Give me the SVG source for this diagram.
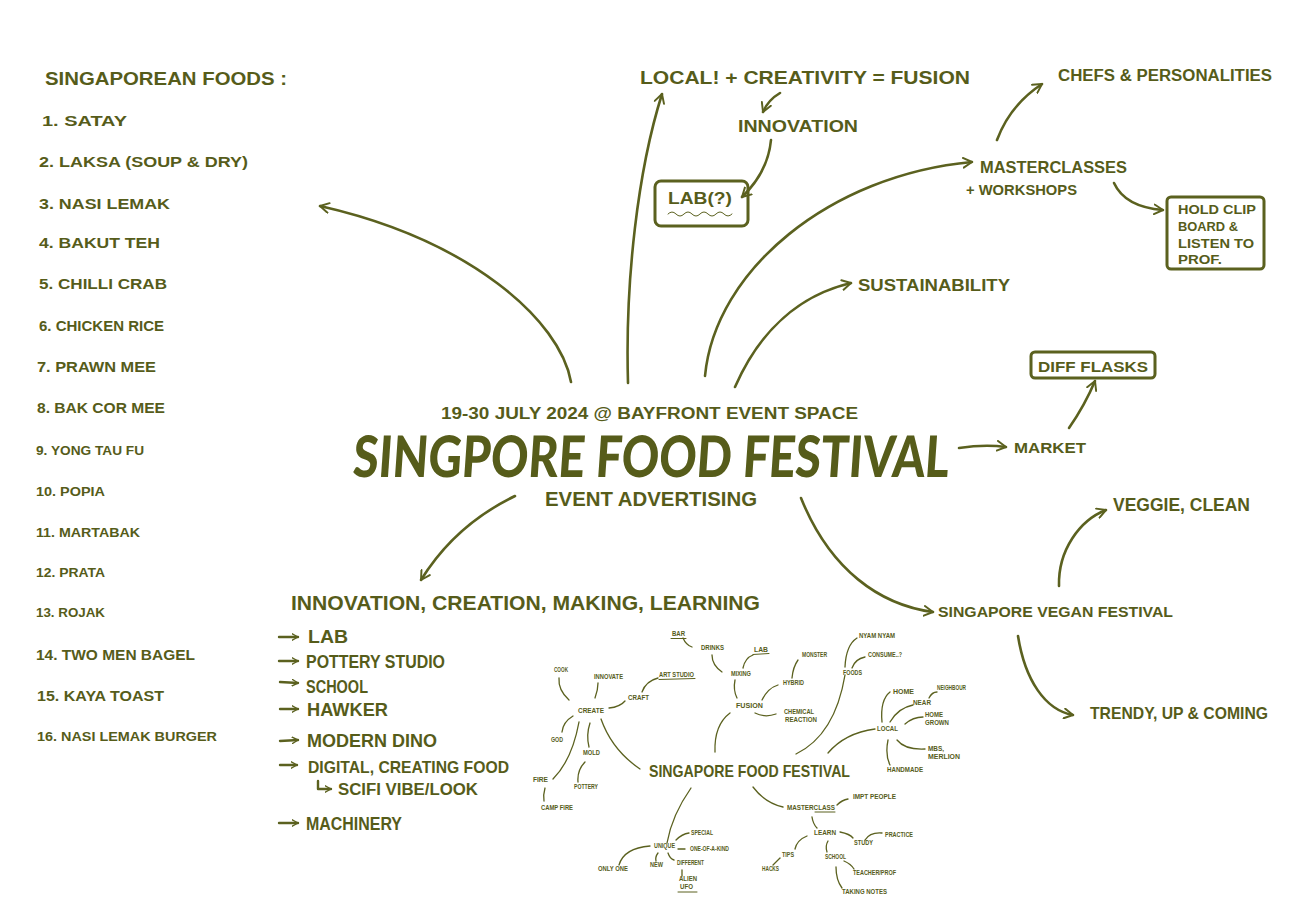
<svg xmlns="http://www.w3.org/2000/svg" width="1303" height="910" viewBox="0 0 1303 910">
<defs>
<style>
.t{font-family:"Liberation Sans",Arial,sans-serif;font-weight:bold;fill:#565c1a}
.title{font-family:Lato,"Liberation Sans",Arial,sans-serif;font-weight:900;fill:#565c1a}
.s{font-family:"Liberation Sans",Arial,sans-serif;font-weight:bold;fill:#565c1a;font-size:6.5px}
.c{fill:none;stroke:#5b611f;stroke-width:2.6;stroke-linecap:round;stroke-linejoin:round}
.b{fill:none;stroke:#5b611f;stroke-width:2.4;stroke-linecap:round;stroke-linejoin:round}
.m{fill:none;stroke:#5b611f;stroke-width:1.3;stroke-linecap:round}
.u{fill:none;stroke:#5b611f;stroke-width:1;stroke-linecap:round}
.box{fill:none;stroke:#5b611f;stroke-width:3;stroke-linejoin:round}
</style>
<marker id="ah" viewBox="0 0 12 12" refX="10" refY="6" markerWidth="4.5" markerHeight="4.5" orient="auto" markerUnits="strokeWidth">
<path d="M1,1 L10,6 L1,11" fill="none" stroke="#5b611f" stroke-width="2" stroke-linecap="round" stroke-linejoin="round"/>
</marker>
<marker id="bh" viewBox="0 0 12 12" refX="10" refY="6" markerWidth="3.2" markerHeight="3.2" orient="auto" markerUnits="strokeWidth">
<path d="M1,1 L10,6 L1,11" fill="none" stroke="#5b611f" stroke-width="2.2" stroke-linecap="round" stroke-linejoin="round"/>
</marker>
</defs>
<rect width="1303" height="910" fill="#ffffff"/>

<g id="connectors">
<path class="c" d="M571,382 C560,320 470,240 320,206" marker-end="url(#ah)"/>
<path class="c" d="M515,496 Q455,525 421,580" marker-end="url(#ah)"/>
<path class="c" d="M628,383 C625,280 638,170 662,94" marker-end="url(#ah)"/>
<path class="c" d="M705,376 C715,270 830,175 972,162" marker-end="url(#ah)"/>
<path class="c" d="M735,387 C760,330 800,295 851,283" marker-end="url(#ah)"/>
<path class="c" d="M780,93 Q768,100 763,112" marker-end="url(#ah)"/>
<path class="c" d="M771,140 Q768,172 742,197" marker-end="url(#ah)"/>
<path class="c" d="M997,140 Q1010,105 1042,84" marker-end="url(#ah)"/>
<path class="c" d="M1114,183 Q1125,207 1163,210" marker-end="url(#ah)"/>
<path class="c" d="M1069,428 Q1085,405 1095,381" marker-end="url(#ah)"/>
<path class="c" d="M959,448 Q985,444 1006,447" marker-end="url(#ah)"/>
<path class="c" d="M801,498 C830,570 880,605 933,612" marker-end="url(#ah)"/>
<path class="c" d="M1059,586 C1058,550 1080,520 1106,510" marker-end="url(#ah)"/>
<path class="c" d="M1018,636 C1025,680 1045,710 1073,715" marker-end="url(#ah)"/>
<!-- small mind map lines -->
<path class="m" d="M640,769 Q612,750 601,719"/>
<path class="m" d="M569,700 Q558,690 559,678"/>
<path class="m" d="M595,698 Q598,690 598,683"/>
<path class="m" d="M609,708 Q620,707 625,701"/>
<path class="m" d="M642,692 Q646,681 658,678"/>
<path class="m" d="M573,716 Q563,722 562,732"/>
<path class="m" d="M590,723 Q586,735 589,747"/>
<path class="m" d="M579,722 Q572,760 553,779"/>
<path class="m" d="M585,762 Q577,770 578,782"/>
<path class="m" d="M545,788 Q543,795 544,801"/>
<path class="m" d="M715,752 Q714,725 730,713"/>
<path class="m" d="M737,698 Q733,690 735,680"/>
<path class="m" d="M743,668 Q745,658 753,655"/>
<path class="m" d="M722,672 Q712,665 712,655"/>
<path class="m" d="M683,638 Q686,645 692,647"/>
<path class="m" d="M762,700 Q768,688 778,685"/>
<path class="m" d="M792,678 Q793,667 798,660"/>
<path class="m" d="M755,713 Q765,718 776,714"/>
<path class="m" d="M796,754 Q835,735 845,675"/>
<path class="m" d="M845,667 Q846,645 857,638"/>
<path class="m" d="M852,668 Q855,659 865,657"/>
<path class="m" d="M828,753 Q845,733 875,729"/>
<path class="m" d="M882,722 Q880,700 890,692"/>
<path class="m" d="M890,722 Q898,708 913,705"/>
<path class="m" d="M929,698 Q932,692 937,692"/>
<path class="m" d="M905,724 Q913,717 923,717"/>
<path class="m" d="M897,740 Q905,750 925,749"/>
<path class="m" d="M888,740 Q885,755 890,765"/>
<path class="m" d="M691,788 Q672,815 667,843"/>
<path class="m" d="M676,840 Q682,834 689,833"/>
<path class="m" d="M678,849 L685,849"/>
<path class="m" d="M650,846 Q624,848 619,865"/>
<path class="m" d="M658,853 Q655,857 656,861"/>
<path class="m" d="M668,853 Q670,859 674,860"/>
<path class="m" d="M682,870 L682,876"/>
<path class="m" d="M753,787 Q765,803 783,807"/>
<path class="m" d="M837,805 Q842,800 848,799"/>
<path class="m" d="M812,817 Q813,824 817,828"/>
<path class="m" d="M840,832 Q850,834 853,838"/>
<path class="m" d="M865,840 Q870,832 882,833"/>
<path class="m" d="M807,836 Q797,840 795,849"/>
<path class="m" d="M780,858 Q776,862 773,865"/>
<path class="m" d="M828,841 Q825,846 827,852"/>
<path class="m" d="M844,861 Q851,864 854,869"/>
<path class="m" d="M836,867 Q836,880 842,888"/>
</g>

<g id="foods-list">
<text class="t" x="45" y="85" font-size="19" textLength="242" lengthAdjust="spacingAndGlyphs">SINGAPOREAN FOODS :</text>
<text class="t" x="42" y="126" font-size="14" textLength="85" lengthAdjust="spacingAndGlyphs">1. SATAY</text>
<text class="t" x="39" y="167" font-size="14" textLength="209" lengthAdjust="spacingAndGlyphs">2. LAKSA (SOUP &amp; DRY)</text>
<text class="t" x="39" y="209" font-size="14" textLength="131" lengthAdjust="spacingAndGlyphs">3. NASI LEMAK</text>
<text class="t" x="39" y="248" font-size="14" textLength="121" lengthAdjust="spacingAndGlyphs">4. BAKUT TEH</text>
<text class="t" x="39" y="289" font-size="14" textLength="128" lengthAdjust="spacingAndGlyphs">5. CHILLI CRAB</text>
<text class="t" x="39" y="331" font-size="14" textLength="125" lengthAdjust="spacingAndGlyphs">6. CHICKEN RICE</text>
<text class="t" x="37" y="372" font-size="14" textLength="119" lengthAdjust="spacingAndGlyphs">7. PRAWN MEE</text>
<text class="t" x="37" y="413" font-size="14" textLength="128" lengthAdjust="spacingAndGlyphs">8. BAK COR MEE</text>
<text class="t" x="36" y="455" font-size="12" textLength="108" lengthAdjust="spacingAndGlyphs">9. YONG TAU FU</text>
<text class="t" x="36" y="496" font-size="13" textLength="69" lengthAdjust="spacingAndGlyphs">10. POPIA</text>
<text class="t" x="36" y="537" font-size="13" textLength="104" lengthAdjust="spacingAndGlyphs">11. MARTABAK</text>
<text class="t" x="36" y="577" font-size="13" textLength="69" lengthAdjust="spacingAndGlyphs">12. PRATA</text>
<text class="t" x="36" y="617" font-size="13" textLength="69" lengthAdjust="spacingAndGlyphs">13. ROJAK</text>
<text class="t" x="36" y="660" font-size="14" textLength="159" lengthAdjust="spacingAndGlyphs">14. TWO MEN BAGEL</text>
<text class="t" x="37" y="701" font-size="14" textLength="127" lengthAdjust="spacingAndGlyphs">15. KAYA TOAST</text>
<text class="t" x="37" y="741" font-size="13" textLength="180" lengthAdjust="spacingAndGlyphs">16. NASI LEMAK BURGER</text>
</g>

<g id="center">
<text class="t" x="441" y="419" font-size="16" textLength="417" lengthAdjust="spacingAndGlyphs">19-30 JULY 2024 @ BAYFRONT EVENT SPACE</text>
<text class="title" transform="translate(352,477) scale(1,1.27) skewX(-5)" x="0" y="0" font-size="45" textLength="596" lengthAdjust="spacingAndGlyphs">SINGPORE FOOD FESTIVAL</text>
<text class="t" x="545" y="506" font-size="20" textLength="212" lengthAdjust="spacingAndGlyphs">EVENT ADVERTISING</text>
</g>

<g id="local-fusion">
<text class="t" x="640" y="84" font-size="19" textLength="330" lengthAdjust="spacingAndGlyphs">LOCAL! + CREATIVITY = FUSION</text>
</g>
<g id="innovation">
<text class="t" x="738" y="132" font-size="16" textLength="120" lengthAdjust="spacingAndGlyphs">INNOVATION</text>
</g>
<g id="lab-box">
<rect class="box" x="655" y="181" width="93" height="45" rx="6"/>
<text class="t" x="668" y="204" font-size="17" textLength="64" lengthAdjust="spacingAndGlyphs">LAB(?)</text>
<path class="u" stroke-width="2" d="M668,214 q4,-4 8,0 t8,0 t8,0 t8,0 t8,0 t8,0 t8,0 t8,0"/>
</g>
<g id="chefs">
<text class="t" x="1058" y="81" font-size="16" textLength="214" lengthAdjust="spacingAndGlyphs">CHEFS &amp; PERSONALITIES</text>
</g>
<g id="masterclasses">
<text class="t" x="980" y="173" font-size="17" textLength="147" lengthAdjust="spacingAndGlyphs">MASTERCLASSES</text>
<text class="t" x="966" y="195" font-size="15" textLength="111" lengthAdjust="spacingAndGlyphs">+ WORKSHOPS</text>
</g>
<g id="hold-clip-board">
<rect class="box" x="1167" y="197" width="97" height="72" rx="4"/>
<text class="t" x="1178" y="214" font-size="13" textLength="78" lengthAdjust="spacingAndGlyphs">HOLD CLIP</text>
<text class="t" x="1178" y="231" font-size="13" textLength="60" lengthAdjust="spacingAndGlyphs">BOARD &amp;</text>
<text class="t" x="1178" y="248" font-size="13" textLength="76" lengthAdjust="spacingAndGlyphs">LISTEN TO</text>
<text class="t" x="1178" y="264" font-size="13" textLength="44" lengthAdjust="spacingAndGlyphs">PROF.</text>
</g>
<g id="sustainability">
<text class="t" x="858" y="291" font-size="17" textLength="152" lengthAdjust="spacingAndGlyphs">SUSTAINABILITY</text>
</g>
<g id="diff-flasks">
<rect class="box" x="1031" y="352" width="124" height="26" rx="4"/>
<text class="t" x="1038" y="372" font-size="15" textLength="110" lengthAdjust="spacingAndGlyphs">DIFF FLASKS</text>
</g>
<g id="market">
<text class="t" x="1014" y="453" font-size="15" textLength="72" lengthAdjust="spacingAndGlyphs">MARKET</text>
</g>
<g id="vegan-festival">
<text class="t" x="938" y="617" font-size="15" textLength="235" lengthAdjust="spacingAndGlyphs">SINGAPORE VEGAN FESTIVAL</text>
</g>
<g id="veggie-clean">
<text class="t" x="1113" y="511" font-size="18" textLength="137" lengthAdjust="spacingAndGlyphs">VEGGIE, CLEAN</text>
</g>
<g id="trendy">
<text class="t" x="1090" y="719" font-size="17" textLength="178" lengthAdjust="spacingAndGlyphs">TRENDY, UP &amp; COMING</text>
</g>

<g id="innovation-list">
<text class="t" x="291" y="610" font-size="20" textLength="469" lengthAdjust="spacingAndGlyphs">INNOVATION, CREATION, MAKING, LEARNING</text>
<path class="b" d="M279,637 L298,637" marker-end="url(#bh)"/>
<path class="b" d="M279,661 L298,661" marker-end="url(#bh)"/>
<path class="b" d="M280,682 L298,683" marker-end="url(#bh)"/>
<path class="b" d="M280,709 L298,709" marker-end="url(#bh)"/>
<path class="b" d="M280,741 L298,740" marker-end="url(#bh)"/>
<path class="b" d="M280,765 L297,765" marker-end="url(#bh)"/>
<path class="b" d="M318,781 L318,789 L331,789" marker-end="url(#bh)"/>
<path class="b" d="M279,823 L298,823" marker-end="url(#bh)"/>
<text class="t" x="308" y="643" font-size="18" textLength="40" lengthAdjust="spacingAndGlyphs">LAB</text>
<text class="t" x="306" y="668" font-size="18" textLength="139" lengthAdjust="spacingAndGlyphs">POTTERY STUDIO</text>
<text class="t" x="306" y="693" font-size="18" textLength="62" lengthAdjust="spacingAndGlyphs">SCHOOL</text>
<text class="t" x="307" y="716" font-size="18" textLength="81" lengthAdjust="spacingAndGlyphs">HAWKER</text>
<text class="t" x="307" y="747" font-size="18" textLength="130" lengthAdjust="spacingAndGlyphs">MODERN DINO</text>
<text class="t" x="308" y="773" font-size="17" textLength="201" lengthAdjust="spacingAndGlyphs">DIGITAL, CREATING FOOD</text>
<text class="t" x="338" y="795" font-size="16" textLength="140" lengthAdjust="spacingAndGlyphs">SCIFI VIBE/LOOK</text>
<text class="t" x="306" y="830" font-size="18" textLength="96" lengthAdjust="spacingAndGlyphs">MACHINERY</text>
</g>

<g id="mini-map">
<text class="t" x="649" y="777" font-size="17" textLength="201" lengthAdjust="spacingAndGlyphs">SINGAPORE FOOD FESTIVAL</text>
<text class="s" x="578" y="713" textLength="26" lengthAdjust="spacingAndGlyphs">CREATE</text>
<text class="s" x="554" y="672" textLength="14" lengthAdjust="spacingAndGlyphs">COOK</text>
<text class="s" x="594" y="679" textLength="29" lengthAdjust="spacingAndGlyphs">INNOVATE</text>
<text class="s" x="628" y="700" textLength="21" lengthAdjust="spacingAndGlyphs">CRAFT</text>
<text class="s" x="659" y="677" textLength="35" lengthAdjust="spacingAndGlyphs">ART STUDIO</text>
<path class="u" d="M659,679.5 L695,678.5"/>
<text class="s" x="551" y="742" textLength="12" lengthAdjust="spacingAndGlyphs">GOD</text>
<text class="s" x="583" y="755" textLength="17" lengthAdjust="spacingAndGlyphs">MOLD</text>
<text class="s" x="574" y="789" textLength="24" lengthAdjust="spacingAndGlyphs">POTTERY</text>
<text class="s" x="533" y="782" textLength="15" lengthAdjust="spacingAndGlyphs">FIRE</text>
<text class="s" x="541" y="810" textLength="32" lengthAdjust="spacingAndGlyphs">CAMP FIRE</text>
<text class="s" x="672" y="636" textLength="13" lengthAdjust="spacingAndGlyphs">BAR</text>
<path class="u" d="M671,638.5 L686,638.5"/>
<text class="s" x="701" y="650" textLength="23" lengthAdjust="spacingAndGlyphs">DRINKS</text>
<text class="s" x="731" y="676" textLength="20" lengthAdjust="spacingAndGlyphs">MIXING</text>
<text class="s" x="754" y="652" textLength="14" lengthAdjust="spacingAndGlyphs">LAB</text>
<path class="u" d="M753,654.5 L769,653.5"/>
<text class="s" x="802" y="657" textLength="25" lengthAdjust="spacingAndGlyphs">MONSTER</text>
<text class="s" x="783" y="685" textLength="21" lengthAdjust="spacingAndGlyphs">HYBRID</text>
<text class="s" x="736" y="708" textLength="27" lengthAdjust="spacingAndGlyphs">FUSION</text>
<text class="s" x="784" y="714" textLength="30" lengthAdjust="spacingAndGlyphs">CHEMICAL</text>
<text class="s" x="785" y="722" textLength="32" lengthAdjust="spacingAndGlyphs">REACTION</text>
<text class="s" x="859" y="638" textLength="36" lengthAdjust="spacingAndGlyphs">NYAM NYAM</text>
<text class="s" x="868" y="657" textLength="34" lengthAdjust="spacingAndGlyphs">CONSUME..?</text>
<text class="s" x="843" y="675" textLength="19" lengthAdjust="spacingAndGlyphs">FOODS</text>
<text class="s" x="893" y="694" textLength="21" lengthAdjust="spacingAndGlyphs">HOME</text>
<text class="s" x="937" y="690" textLength="29" lengthAdjust="spacingAndGlyphs">NEIGHBOUR</text>
<text class="s" x="913" y="705" textLength="18" lengthAdjust="spacingAndGlyphs">NEAR</text>
<text class="s" x="925" y="717" textLength="18" lengthAdjust="spacingAndGlyphs">HOME</text>
<text class="s" x="925" y="725" textLength="24" lengthAdjust="spacingAndGlyphs">GROWN</text>
<text class="s" x="877" y="731" textLength="21" lengthAdjust="spacingAndGlyphs">LOCAL</text>
<text class="s" x="928" y="751" textLength="16" lengthAdjust="spacingAndGlyphs">MBS,</text>
<text class="s" x="928" y="759" textLength="32" lengthAdjust="spacingAndGlyphs">MERLION</text>
<text class="s" x="887" y="772" textLength="36" lengthAdjust="spacingAndGlyphs">HANDMADE</text>
<text class="s" x="654" y="848" textLength="21" lengthAdjust="spacingAndGlyphs">UNIQUE</text>
<text class="s" x="691" y="835" textLength="22" lengthAdjust="spacingAndGlyphs">SPECIAL</text>
<text class="s" x="690" y="851" textLength="39" lengthAdjust="spacingAndGlyphs">ONE-OF-A-KIND</text>
<text class="s" x="598" y="871" textLength="30" lengthAdjust="spacingAndGlyphs">ONLY ONE</text>
<text class="s" x="650" y="867" textLength="13" lengthAdjust="spacingAndGlyphs">NEW</text>
<text class="s" x="677" y="865" textLength="27" lengthAdjust="spacingAndGlyphs">DIFFERENT</text>
<text class="s" x="679" y="881" textLength="18" lengthAdjust="spacingAndGlyphs">ALIEN</text>
<text class="s" x="680" y="889" textLength="13" lengthAdjust="spacingAndGlyphs">UFO</text>
<path class="u" d="M678,892 L697,892"/>
<text class="s" x="787" y="810" textLength="48" lengthAdjust="spacingAndGlyphs">MASTERCLASS</text>
<path class="u" d="M815,812 L835,812"/>
<text class="s" x="853" y="799" textLength="43" lengthAdjust="spacingAndGlyphs">IMPT PEOPLE</text>
<text class="s" x="814" y="835" textLength="22" lengthAdjust="spacingAndGlyphs">LEARN</text>
<text class="s" x="854" y="845" textLength="19" lengthAdjust="spacingAndGlyphs">STUDY</text>
<text class="s" x="885" y="837" textLength="28" lengthAdjust="spacingAndGlyphs">PRACTICE</text>
<text class="s" x="782" y="857" textLength="12" lengthAdjust="spacingAndGlyphs">TIPS</text>
<text class="s" x="825" y="859" textLength="21" lengthAdjust="spacingAndGlyphs">SCHOOL</text>
<text class="s" x="762" y="871" textLength="17" lengthAdjust="spacingAndGlyphs">HACKS</text>
<text class="s" x="853" y="875" textLength="43" lengthAdjust="spacingAndGlyphs">TEACHER/PROF</text>
<text class="s" x="842" y="894" textLength="45" lengthAdjust="spacingAndGlyphs">TAKING NOTES</text>
</g>
</svg>
